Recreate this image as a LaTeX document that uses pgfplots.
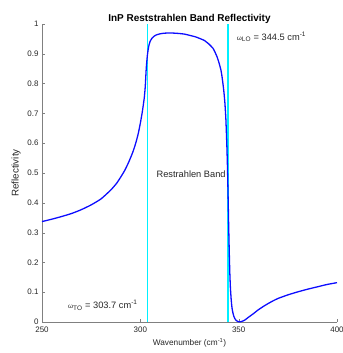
\documentclass[border=0pt]{standalone}
\usepackage{pgfplots}
\pgfplotsset{compat=1.18}
\usepackage{fontspec}
\setmainfont{Liberation Sans}
\definecolor{mcyan}{RGB}{0,240,255}
\definecolor{mblue}{rgb}{0.05,0.05,1}
\begin{document}
\begin{tikzpicture}
\path[use as bounding box] (-42bp,-31bp) rectangle (301bp,322bp);
\begin{axis}[
  at={(0,0)}, anchor=south west,
  scale only axis, width=295bp, height=298bp,
  xmin=250, xmax=400, ymin=0, ymax=1,
  axis x line*=bottom, axis y line*=left,
  axis line style={draw=black!50, -},
  tick style={draw=black!50},
  tick align=inside, major tick length=3bp,
  xtick={250,300,350,400},
  ytick={0,0.1,0.2,0.3,0.4,0.5,0.6,0.7,0.8,0.9,1},
  yticklabels={0,0.1,0.2,0.3,0.4,0.5,0.6,0.7,0.8,0.9,1},
  /pgf/number format/assume math mode=true,
  tick label style={font=\fontsize{8}{9}\selectfont, text=black!85},
  xticklabel style={yshift=-1bp},
  title={\textbf{InP Reststrahlen Band Reflectivity}},
  title style={font=\fontsize{10}{11}\selectfont, yshift=-9bp},
  xlabel={Wavenumber (cm\textsuperscript{-1})},
  ylabel={Reflectivity},
  xlabel style={font=\fontsize{8.3}{9}\selectfont, text=black!85},
  ylabel style={font=\fontsize{9.8}{11}\selectfont, text=black!85},
  clip=false,
]
\addplot[draw=none, mark=none, forget plot] coordinates {(250,0) (250,0)};
\addplot[color=mcyan, line width=1.5pt, mark=none] table {
x y
303.7 0
303.7 1
};
\addplot[color=mcyan, line width=1.5pt, mark=none] table {
x y
344.5 0
344.5 1
};
\addplot[color=mblue, line width=1.3pt, mark=none, smooth, tension=0.3] coordinates {
(250,0.337) (255,0.345) (260,0.354) (265,0.364) (270,0.377) (275,0.393)
(280,0.413) (285,0.443) (288,0.466) (290,0.486) (292,0.508) (294,0.535)
(296,0.567) (297,0.586) (298,0.608) (299,0.634) (300,0.667) (301,0.705)
(302,0.752) (302.5,0.79) (303,0.85) (303.5,0.89) (304,0.915) (304.5,0.932)
(305,0.942) (306,0.953) (307,0.959) (308,0.963) (310,0.967) (312,0.969)
(315,0.970) (318,0.969) (320,0.968) (322.5,0.966) (325,0.962) (328,0.957)
(330,0.952) (332.5,0.945) (335,0.932) (337,0.918) (338,0.905) (339,0.890)
(340,0.870) (341,0.845) (341.5,0.825) (342,0.800) (342.5,0.772) (343,0.735)
(343.5,0.68) (344,0.59) (344.3,0.52) (344.6,0.43) (344.9,0.33) (345.2,0.24)
(345.5,0.165) (345.8,0.115) (346.2,0.075) (346.6,0.048) (347,0.033)
(347.5,0.020) (348,0.012) (348.5,0.007) (349,0.004) (349.5,0.002)
(350,0.001) (350.5,0.0005) (351,0.0008) (352,0.003) (353,0.006)
(355,0.016) (357.5,0.028) (360,0.041) (362.5,0.052) (365,0.062)
(367.5,0.071) (370,0.079) (375,0.091) (380,0.101) (385,0.110)
(390,0.118) (395,0.126) (400,0.132)
};
\node[anchor=base west, inner sep=0pt, font=\fontsize{9.3}{10}\selectfont, text=black!85] at (axis cs:349,0.946) {{\fontsize{6.5}{7}\selectfont ω}\textsubscript{LO} = 344.5 cm\textsuperscript{-1}};
\node[font=\fontsize{9.3}{10}\selectfont, text=black!85] at (axis cs:325.8,0.497) {Restrahlen Band};
\node[anchor=base west, inner sep=0pt, font=\fontsize{9.3}{10}\selectfont, text=black!85] at (axis cs:263.2,0.045) {{\fontsize{6.5}{7}\selectfont ω}\textsubscript{TO} = 303.7 cm\textsuperscript{-1}};
\end{axis}
\end{tikzpicture}
\end{document}
